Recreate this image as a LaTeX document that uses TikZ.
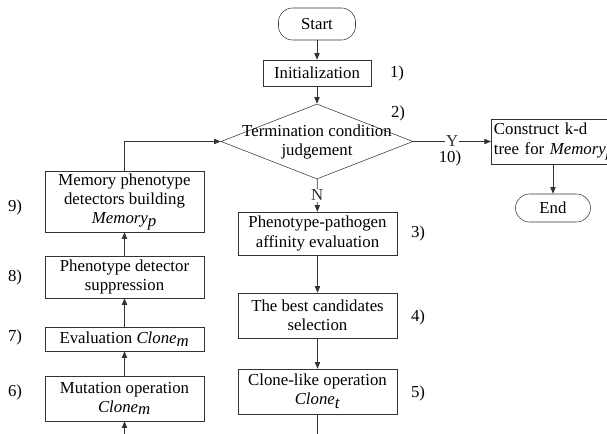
\documentclass[tikz,border=0pt]{standalone}
\usepackage{fontspec}
\setmainfont{Liberation Serif}
\usetikzlibrary{arrows.meta,shapes.geometric}

\begin{document}
\begin{tikzpicture}[x=0.75pt, y=-0.75pt,
	every node/.style={font=\rmfamily\fontsize{12.6}{14.5}\selectfont},
	proc/.style={draw, black!80, text=black, minimum width=119.25pt, align=center, inner sep=1pt},
	term/.style={draw, black!80, text=black, rounded corners=10.5pt, inner sep=1pt},
	decision/.style={draw, black!80, diamond, minimum width=144pt, minimum height=56.25pt, inner sep=0pt},
	conn/.style={draw, line width=0.6pt, black!80},
	arr/.style={-{Triangle[length=5pt,width=4pt]}}]
	\clip (0,0) rectangle (607,434);
	% main column
	\node[term, minimum width=57.75pt, minimum height=24pt] (start) at (317,24) {Start};
	\node[proc, minimum width=81pt, minimum height=19.5pt] (init) at (317,73) {Initialization};
	\node[decision] (judge) at (317,141.5) {};
	\node[align=center, inner sep=0pt] (judgetxt) at (317,142) {Termination condition\\judgement};
	\node[proc, minimum height=32.25pt] (aff) at (317.5,233.5) {Phenotype-pathogen\\affinity evaluation};
	\node[proc, minimum height=33.75pt] (best) at (317.5,315.5) {The best candidates\\selection};
	\node[proc, minimum height=33.75pt] (clonel) at (317.5,391.5) {Clone-like operation\\\textit{Clone}$_{\textit{t}}$};
	\coordinate (outR) at (317.5,445);
	% Y branch
	\node[draw, black!80, text=black, anchor=west, minimum height=33.75pt, text width=98pt, align=left, inner sep=2pt] (kd) at (491,141.5) {Construct k-d\\tree for \textit{Memory}$_{\textit{p}}$};
	\node[term, minimum width=56.25pt, minimum height=21pt] (end) at (553,208) {End};
	% left column
	\node[proc, minimum height=45.75pt] (mem) at (124.5,201.5) {Memory phenotype\\detectors building\\\textit{Memory}$_{\textit{p}}$};
	\node[proc, minimum height=31.5pt] (supp) at (124.5,277) {Phenotype detector\\suppression};
	\node[proc, minimum height=18pt] (eval) at (124.5,339) {Evaluation \textit{Clone}$_{\textit{m}}$};
	\node[proc, minimum height=33.75pt] (mut) at (124.5,398.5) {Mutation operation\\\textit{Clone}$_{\textit{m}}$};
	\coordinate (inL) at (124.5,445);
	% step numbers
	\node (s1) at (397,73) {1)};
	\node (s2) at (398,113) {2)};
	\node (s3) at (418,233) {3)};
	\node (s4) at (418,317) {4)};
	\node (s5) at (418,393) {5)};
	\node (s6) at (15,392) {6)};
	\node (s7) at (15,337) {7)};
	\node (s8) at (15,277) {8)};
	\node (s9) at (15,207) {9)};
	\node (s10) at (450,158) {10)};
	% connectors
	\draw[conn, arr] (start) -- (init);
	\draw[conn, arr] (init) -- (judge);
	\draw[conn, arr] (judge) -- node[fill=white, inner sep=1pt] (nlabel) {N} (aff);
	\draw[conn, arr] (aff) -- (best);
	\draw[conn, arr] (best) -- (clonel);
	\draw[conn] (clonel) -- (outR);
	\draw[conn, arr] (judge.east) -- node[fill=white, inner sep=0.5pt] (ylabel) {Y} (kd.west);
	\draw[conn, arr] (kd.south -| end) -- (end);
	\draw[conn, arr] (inL) -- (mut);
	\draw[conn, arr] (mut) -- (eval);
	\draw[conn, arr] (eval) -- (supp);
	\draw[conn, arr] (supp) -- (mem);
	\draw[conn, arr] (mem) |- (judge);
\end{tikzpicture}
\end{document}
